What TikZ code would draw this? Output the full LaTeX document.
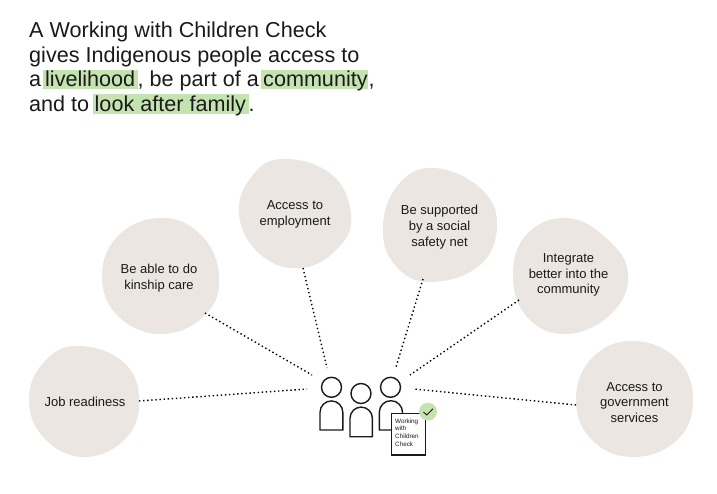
\documentclass[tikz,border=0pt]{standalone}
\usepackage{fontspec}
\setmainfont{Liberation Sans}
\definecolor{blobc}{HTML}{EBE6E1}
\definecolor{hl}{HTML}{C5E3B0}
\definecolor{ink}{HTML}{1A1A1A}
\tikzset{
  blob/.style={fill=blobc,draw=none},
  bloblabel/.style={align=center,inner sep=0pt,font=\fontsize{13}{15.7}\selectfont,text=ink},
  headline/.style={anchor=base west,inner sep=0pt,font=\fontsize{21.6}{24}\selectfont,text=ink},
  hlbar/.style={fill=hl,draw=none},
  dotline/.style={line width=1.4pt,dash pattern=on 1.4pt off 2.7pt,draw=black},
  figure/.style={draw=ink,line width=1.4pt,fill=white},
  doclabel/.style={anchor=north west,align=left,inner sep=0pt,font=\fontsize{6.3}{7.7}\selectfont,text=ink},
}
\begin{document}
\begin{tikzpicture}[x=1pt,y=-1pt]
\useasboundingbox (0,0) rectangle (717,494);
% headline highlights
\fill[hlbar] (43,70) rectangle (138,89);
\fill[hlbar] (261,70) rectangle (368,89);
\fill[hlbar] (93,94) rectangle (249,114);
\node[headline] (l1) at (29,38) {A Working with Children Check};
\node[headline] (l2) at (29,63) {gives Indigenous people access to};
\node[headline] (l3a) at (29,87) {a};
\node[headline] (l3b) at (45,87) {livelihood};
\node[headline] (l3c) at (137.5,87) {, be part of a};
\node[headline] (l3d) at (263,87) {community};
\node[headline] (l3e) at (368.5,87) {,};
\node[headline] (l4a) at (29,112) {and to};
\node[headline] (l4b) at (94.5,112) {look after family};
\node[headline] (l4c) at (248.5,112) {.};
% blobs
\fill[blob] plot[smooth cycle,tension=0.72] coordinates {(78,346)(122,361)(139,397)(127,437)(85,457)(44,438)(29,398)(45,361)};
\fill[blob] plot[smooth cycle,tension=0.72] coordinates {(160,218)(200,234)(219,275)(206,314)(163,334)(119,317)(102,277)(118,236)};
\fill[blob] plot[smooth cycle,tension=0.72] coordinates {(283,159)(331,174)(351,214)(339,247)(302,268)(261,255)(239,215)(252,176)};
\fill[blob] plot[smooth cycle,tension=0.72] coordinates {(433,168)(479,187)(497,223)(480,265)(430,282)(395,265)(383,227)(398,185)};
\fill[blob] plot[smooth cycle,tension=0.72] coordinates {(567,218)(606,238)(628,273)(612,313)(567,334)(527,317)(513,275)(527,234)};
\fill[blob] plot[smooth cycle,tension=0.72] coordinates {(633,341)(677,359)(693,400)(677,440)(633,457)(592,440)(576,400)(592,358)};
% labels
\node[bloblabel] (job) at (85,401.5) {Job readiness};
\node[bloblabel] (kin) at (159,278) {Be able to do\\kinship care};
\node[bloblabel] (emp) at (295,214.5) {Access to\\employment};
\node[bloblabel] (soc) at (439.5,227) {Be supported\\by a social\\safety net};
\node[bloblabel] (int) at (568.5,275) {Integrate\\better into the\\community};
\node[bloblabel] (gov) at (634.5,402.5) {Access to\\government\\services};
% connector ends
\coordinate (jobA) at (139,401); \coordinate (jobB) at (307,389);
\coordinate (kinA) at (205,313); \coordinate (kinB) at (312,375);
\coordinate (empA) at (303,268); \coordinate (empB) at (327,368);
\coordinate (socA) at (423,279); \coordinate (socB) at (396,367);
\coordinate (intA) at (519,300); \coordinate (intB) at (410,375);
\coordinate (govA) at (576,405); \coordinate (govB) at (414,389);
\foreach \e in {job,kin,emp,soc,int,gov}{\draw[dotline] (\e A) -- (\e B);}
% people
\draw[figure] (331.5,387.3) circle (10);
\draw[figure] (320,430) -- (320,412.3) arc[start angle=180,end angle=360,radius=11.4] -- (342.8,430) -- cycle;
\draw[figure] (361,393.5) circle (10);
\draw[figure] (350,436.7) -- (350,418.3) arc[start angle=180,end angle=360,radius=11.2] -- (372.4,436.7) -- cycle;
\draw[figure] (390.5,387.3) circle (10);
\draw[figure] (379.3,430) -- (379.3,412.3) arc[start angle=180,end angle=360,radius=11.6] -- (402.5,430) -- cycle;
% document
\node[draw=ink,line width=1.2pt,fill=white,minimum width=34.5pt,minimum height=41.5pt,inner sep=0pt] (doc) at (408.5,434.2) {};
\node[doclabel] (doctext) at (395,418.5) {Working\\with\\Children\\Check};
% check badge
\node[circle,fill=hl,minimum size=18pt,inner sep=0pt] (badge) at (428,411.7) {};
\draw[ink,line width=0.9pt] (423.5,412) -- (426.8,415) -- (432.8,408.8);
\end{tikzpicture}
\end{document}
